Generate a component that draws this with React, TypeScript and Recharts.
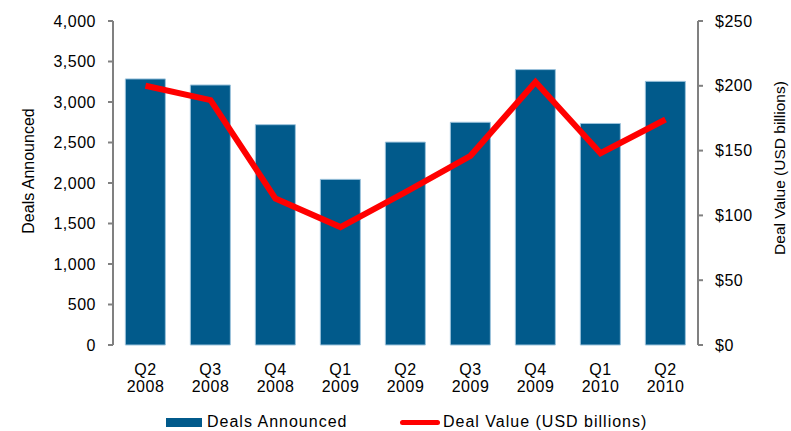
import {
  ComposedChart,
  Bar,
  Line,
  XAxis,
  YAxis,
  Legend,
} from "recharts";

const quarters = ["Q2", "Q3", "Q4", "Q1", "Q2", "Q3", "Q4", "Q1", "Q2"];
const years = ["2008", "2008", "2008", "2009", "2009", "2009", "2009", "2010", "2010"];
const dealsAnnounced = [3285, 3210, 2720, 2045, 2505, 2750, 3400, 2735, 3255];
const dealValue = [200, 189, 113, 91, 118, 146, 203, 148, 174];

const leftTicks = [0, 500, 1000, 1500, 2000, 2500, 3000, 3500, 4000];
const rightTicks = [0, 50, 100, 150, 200, 250];
const edgeTicks = [0, 1, 2, 3, 4, 5, 6, 7, 8, 9];

const data = quarters.map((q, i) => ({
  label: `${q}\n${years[i]}`,
  deals: dealsAnnounced[i],
  value: dealValue[i],
}));

const FONT = '"Liberation Sans", Arial, sans-serif';
const AXIS = "#808080";
const BLUE = "#015A8B";
const RED = "#FF0000";

const tickStyle = { fill: "#000", fontSize: 16, fontFamily: FONT, letterSpacing: 0.5 };

function QuarterTick(props: any) {
  const { x, y, payload } = props;
  const [q, yr] = String(payload.value).split("\n");
  return (
    <text x={x} y={y} textAnchor="middle" fontSize={16} fill="#000" fontFamily={FONT} letterSpacing={0.5}>
      <tspan x={x} dy={22}>{q}</tspan>
      <tspan x={x} dy={17}>{yr}</tspan>
    </text>
  );
}

function ChartLegend() {
  return (
    <div style={{ position: "relative", width: 791, height: 28, fontFamily: FONT, fontSize: 16, letterSpacing: 1 }}>
      <div style={{ position: "absolute", left: 166, top: 15, width: 36, height: 9, background: BLUE }} />
      <span style={{ position: "absolute", left: 207, top: 10 }}>Deals Announced</span>
      <div style={{ position: "absolute", left: 400, top: 17, width: 40, height: 5, borderRadius: 3, background: RED }} />
      <span style={{ position: "absolute", left: 443, top: 10 }}>Deal Value (USD billions)</span>
    </div>
  );
}

export default function App() {
  return (
    <div style={{ position: "fixed", left: 0, top: 0, background: "#fff" }}>
      <ComposedChart
        width={791}
        height={431}
        data={data}
        margin={{ top: 21, right: 0, bottom: 0, left: 0 }}
        barCategoryGap="19%"
      >
        <XAxis
          xAxisId="edges"
          type="number"
          domain={[0, 9]}
          ticks={edgeTicks}
          tick={false}
          tickSize={5}
          axisLine={{ stroke: AXIS, strokeWidth: 2 }}
          tickLine={{ stroke: AXIS, strokeWidth: 2 }}
          height={0}
          allowDataOverflow
        />
        <XAxis
          dataKey="label"
          tick={<QuarterTick />}
          axisLine={false}
          tickLine={false}
          height={58}
          interval={0}
        />
        <YAxis
          yAxisId="left"
          domain={[0, 4000]}
          ticks={leftTicks}
          width={113}
          tickSize={5}
          tickMargin={12}
          tickFormatter={(v: number) => v.toLocaleString("en-US")}
          tick={tickStyle}
          axisLine={{ stroke: AXIS, strokeWidth: 2 }}
          tickLine={{ stroke: AXIS, strokeWidth: 2 }}
          label={{
            value: "Deals Announced",
            angle: -90,
            position: "center",
            dx: -28,
            dy: -12,
            style: { fontSize: 16, fontFamily: FONT, fill: "#000" },
          }}
        />
        <YAxis
          yAxisId="right"
          orientation="right"
          domain={[0, 250]}
          ticks={rightTicks}
          width={93}
          tickSize={5}
          tickMargin={12}
          tickFormatter={(v: number) => `$${v}`}
          tick={tickStyle}
          axisLine={{ stroke: AXIS, strokeWidth: 2 }}
          tickLine={{ stroke: AXIS, strokeWidth: 2 }}
          label={{
            value: "Deal Value (USD billions)",
            angle: -90,
            position: "center",
            dx: 35,
            dy: -15,
            style: { fontSize: 15.5, fontFamily: FONT, fill: "#000" },
          }}
        />
        <Legend
          verticalAlign="bottom"
          height={28}
          wrapperStyle={{ left: 0, width: 791, bottom: 0 }}
          content={() => <ChartLegend />}
        />
        <Bar
          yAxisId="left"
          dataKey="deals"
          name="Deals Announced"
          fill={BLUE}
          stroke="#9cc3dc"
          strokeWidth={1}
          isAnimationActive={false}
        />
        <Line
          yAxisId="right"
          dataKey="value"
          name="Deal Value (USD billions)"
          stroke={RED}
          strokeWidth={6}
          dot={false}
          activeDot={false}
          isAnimationActive={false}
        />
      </ComposedChart>
    </div>
  );
}
